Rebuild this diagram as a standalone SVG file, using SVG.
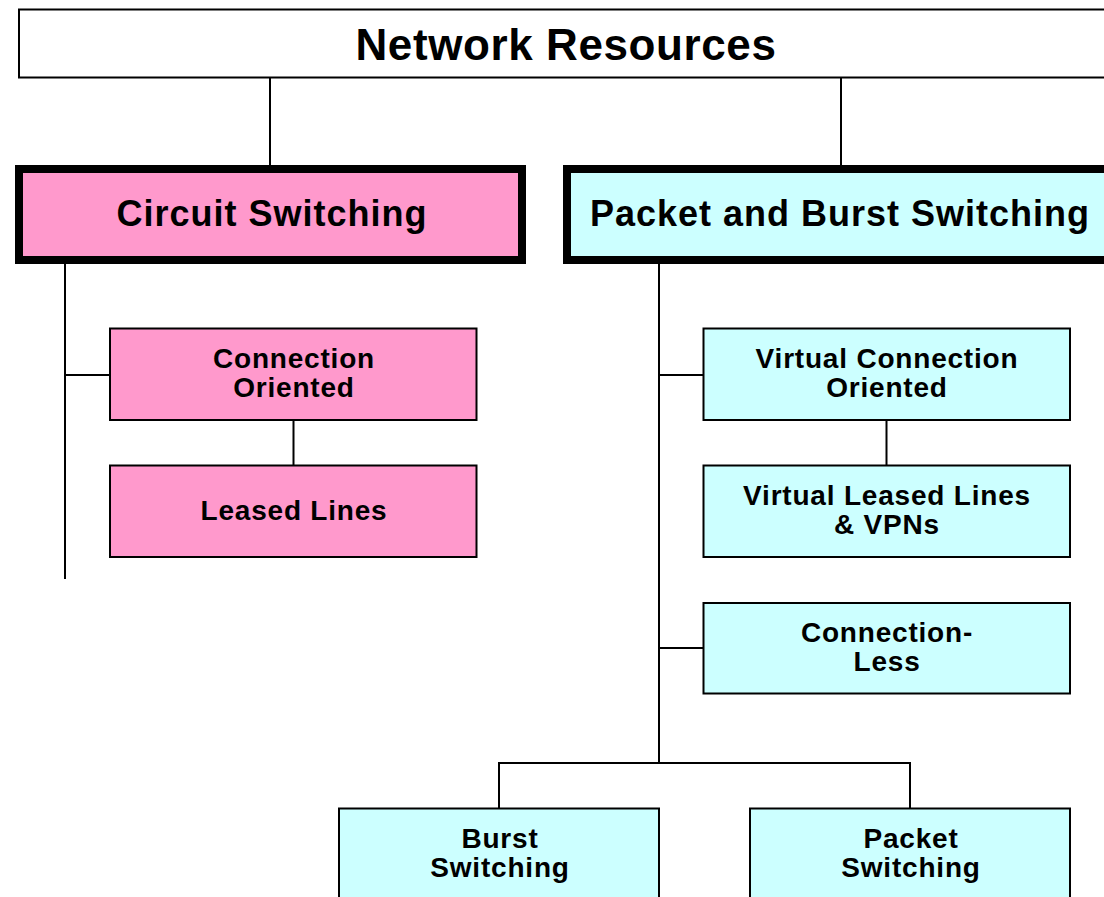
<svg xmlns="http://www.w3.org/2000/svg" width="1104" height="897" viewBox="0 0 1104 897">
  <style>
    .lbl { font-family: "Liberation Sans", Arial, sans-serif; font-weight: bold; fill: #000; text-anchor: middle; }
    .title { font-size: 44px; letter-spacing: 0.6px; }
    .head { font-size: 36px; letter-spacing: 1px; }
    .item { font-size: 28px; letter-spacing: 0.8px; }
    .thin { stroke: #000; stroke-width: 2; }
    .thick { stroke: #000; stroke-width: 8; }
    .pink { fill: #FF99CC; }
    .cyan { fill: #CCFFFF; }
    .wire { stroke: #000; stroke-width: 2; fill: none; }
  </style>
  <rect width="1104" height="897" fill="#fff"/>

  <!-- tree connectors -->
  <g id="connectors">
    <path class="wire" d="M270,77 V165"/>
    <path class="wire" d="M841,77 V165"/>
    <path class="wire" d="M65,264 V579"/>
    <path class="wire" d="M65,375 H110"/>
    <path class="wire" d="M293.5,420 V466"/>
    <path class="wire" d="M659,264 V763"/>
    <path class="wire" d="M659,375 H703"/>
    <path class="wire" d="M659,648 H703"/>
    <path class="wire" d="M886.5,420 V466"/>
    <path class="wire" d="M498,763 H911"/>
    <path class="wire" d="M499,763 V808"/>
    <path class="wire" d="M910,763 V808"/>
  </g>

  <g id="network-resources">
    <rect class="thin" x="19" y="9.5" width="1100" height="68" fill="#fff"/>
    <text class="lbl title" x="566" y="60">Network Resources</text>
  </g>

  <g id="circuit-switching">
    <rect class="thick pink" x="19" y="169" width="503" height="91"/>
    <text class="lbl head" x="272" y="226">Circuit Switching</text>
  </g>

  <g id="packet-burst-switching">
    <rect class="thick cyan" x="567" y="169" width="560" height="91"/>
    <text class="lbl head" x="840" y="226">Packet and Burst Switching</text>
  </g>

  <g id="connection-oriented">
    <rect class="thin pink" x="110" y="328.5" width="366.5" height="91.5"/>
    <text class="lbl item" x="294" y="368">Connection</text>
    <text class="lbl item" x="294" y="396.5">Oriented</text>
  </g>

  <g id="leased-lines">
    <rect class="thin pink" x="110" y="465.5" width="366.5" height="91.5"/>
    <text class="lbl item" x="294" y="520">Leased Lines</text>
  </g>

  <g id="virtual-connection-oriented">
    <rect class="thin cyan" x="703.5" y="328.5" width="366.5" height="91.5"/>
    <text class="lbl item" x="887" y="368">Virtual Connection</text>
    <text class="lbl item" x="887" y="396.5">Oriented</text>
  </g>

  <g id="virtual-leased-lines">
    <rect class="thin cyan" x="703.5" y="465.5" width="366.5" height="91.5"/>
    <text class="lbl item" x="887" y="505">Virtual Leased Lines</text>
    <text class="lbl item" x="887" y="533.5">&amp; VPNs</text>
  </g>

  <g id="connection-less">
    <rect class="thin cyan" x="703.5" y="603" width="366.5" height="90.5"/>
    <text class="lbl item" x="887" y="642">Connection-</text>
    <text class="lbl item" x="887" y="670.5">Less</text>
  </g>

  <g id="burst-switching">
    <rect class="thin cyan" x="339" y="808.5" width="320" height="100"/>
    <text class="lbl item" x="500" y="848">Burst</text>
    <text class="lbl item" x="500" y="876.5">Switching</text>
  </g>

  <g id="packet-switching">
    <rect class="thin cyan" x="750" y="808.5" width="320" height="100"/>
    <text class="lbl item" x="911" y="848">Packet</text>
    <text class="lbl item" x="911" y="876.5">Switching</text>
  </g>
</svg>
